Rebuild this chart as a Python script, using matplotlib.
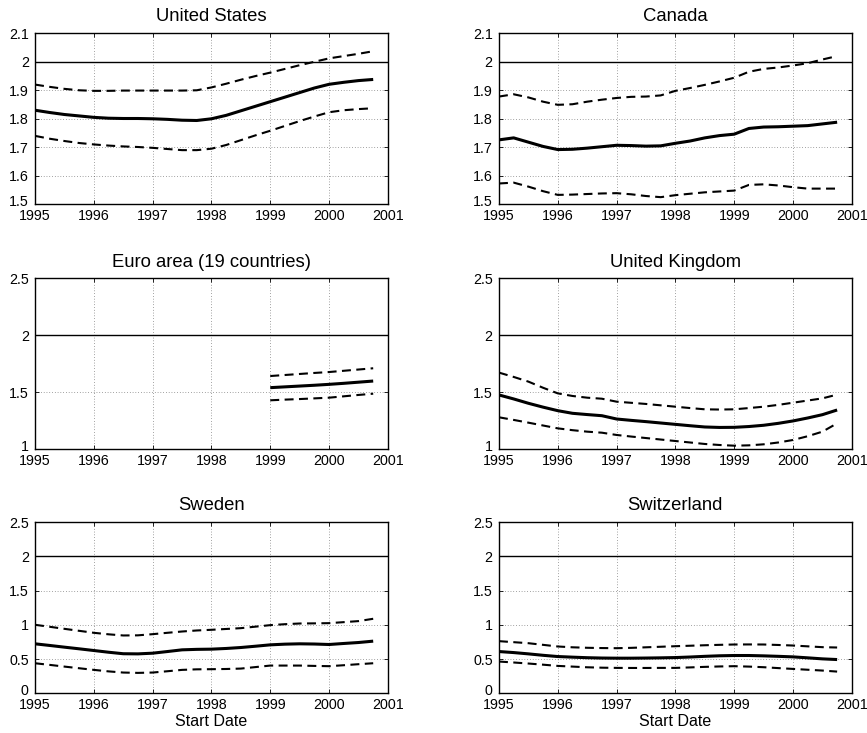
import numpy as np
import matplotlib
matplotlib.use('Agg')
import matplotlib.pyplot as plt
import matplotlib.transforms as mtransforms

plt.rcParams['font.family'] = ['Liberation Sans', 'DejaVu Sans']

# quarterly start dates 1995Q1 .. 2000Q4
dates = [1995 + q / 4 for q in range(24)]
years = [1995, 1996, 1997, 1998, 1999, 2000, 2001]
target = 2.0

us_med = [1.830, 1.822, 1.815, 1.810, 1.805, 1.802, 1.801, 1.801, 1.800, 1.798, 1.795, 1.794,
          1.800, 1.812, 1.828, 1.844, 1.860, 1.876, 1.892, 1.908, 1.921, 1.928, 1.934, 1.938]
us_up = [1.920, 1.912, 1.905, 1.900, 1.898, 1.898, 1.899, 1.899, 1.899, 1.899, 1.899, 1.900,
         1.910, 1.923, 1.937, 1.950, 1.962, 1.975, 1.988, 2.000, 2.012, 2.020, 2.028, 2.037]
us_lo = [1.740, 1.730, 1.722, 1.715, 1.710, 1.706, 1.703, 1.701, 1.698, 1.694, 1.690, 1.690,
         1.695, 1.708, 1.725, 1.742, 1.758, 1.775, 1.792, 1.808, 1.823, 1.830, 1.834, 1.837]

ca_med = [1.726, 1.733, 1.718, 1.703, 1.692, 1.693, 1.697, 1.702, 1.707, 1.706, 1.704, 1.705,
          1.714, 1.722, 1.733, 1.741, 1.746, 1.766, 1.771, 1.772, 1.774, 1.776, 1.782, 1.788]
ca_up = [1.878, 1.886, 1.875, 1.860, 1.849, 1.851, 1.860, 1.867, 1.873, 1.877, 1.878, 1.882,
         1.898, 1.908, 1.919, 1.931, 1.944, 1.965, 1.975, 1.980, 1.987, 1.995, 2.008, 2.020]
ca_lo = [1.573, 1.576, 1.562, 1.546, 1.533, 1.534, 1.536, 1.538, 1.539, 1.535, 1.529, 1.525,
         1.532, 1.537, 1.542, 1.545, 1.548, 1.568, 1.570, 1.566, 1.560, 1.555, 1.555, 1.555]

nan = float('nan')
ea_med = [nan] * 16 + [1.541, 1.548, 1.555, 1.562, 1.570, 1.579, 1.589, 1.599]
ea_up = [nan] * 16 + [1.643, 1.652, 1.661, 1.670, 1.678, 1.689, 1.700, 1.711]
ea_lo = [nan] * 16 + [1.430, 1.436, 1.441, 1.447, 1.453, 1.465, 1.477, 1.488]

uk_med = [1.477, 1.442, 1.404, 1.370, 1.339, 1.316, 1.305, 1.295, 1.266, 1.254, 1.243, 1.231,
          1.219, 1.207, 1.196, 1.192, 1.193, 1.200, 1.211, 1.228, 1.249, 1.275, 1.304, 1.345]
uk_up = [1.673, 1.635, 1.594, 1.540, 1.491, 1.468, 1.453, 1.444, 1.418, 1.408, 1.398, 1.386,
         1.374, 1.362, 1.351, 1.349, 1.351, 1.362, 1.374, 1.390, 1.409, 1.428, 1.447, 1.480]
uk_lo = [1.281, 1.258, 1.234, 1.209, 1.184, 1.168, 1.155, 1.146, 1.126, 1.112, 1.099, 1.086,
         1.073, 1.060, 1.047, 1.038, 1.032, 1.035, 1.044, 1.060, 1.082, 1.115, 1.155, 1.228]

se_med = [0.723, 0.699, 0.674, 0.650, 0.625, 0.600, 0.578, 0.576, 0.586, 0.610, 0.635, 0.642,
          0.645, 0.655, 0.669, 0.688, 0.708, 0.718, 0.723, 0.720, 0.713, 0.728, 0.742, 0.762]
se_up = [1.001, 0.972, 0.942, 0.913, 0.884, 0.862, 0.845, 0.847, 0.864, 0.884, 0.903, 0.918,
         0.928, 0.940, 0.952, 0.974, 0.996, 1.010, 1.020, 1.022, 1.025, 1.040, 1.055, 1.089]
se_lo = [0.439, 0.415, 0.390, 0.366, 0.342, 0.320, 0.303, 0.298, 0.303, 0.322, 0.342, 0.350,
         0.352, 0.355, 0.361, 0.383, 0.405, 0.405, 0.405, 0.400, 0.396, 0.410, 0.425, 0.439]

ch_med = [0.610, 0.595, 0.576, 0.555, 0.537, 0.528, 0.520, 0.515, 0.513, 0.513, 0.515, 0.518,
          0.522, 0.530, 0.540, 0.548, 0.552, 0.552, 0.547, 0.540, 0.532, 0.518, 0.503, 0.493]
ch_up = [0.762, 0.747, 0.732, 0.708, 0.684, 0.672, 0.665, 0.661, 0.659, 0.664, 0.672, 0.680,
         0.688, 0.695, 0.702, 0.708, 0.713, 0.714, 0.713, 0.706, 0.698, 0.686, 0.674, 0.669]
ch_lo = [0.464, 0.450, 0.435, 0.418, 0.400, 0.390, 0.380, 0.374, 0.371, 0.370, 0.370, 0.371,
         0.371, 0.378, 0.386, 0.392, 0.396, 0.390, 0.381, 0.368, 0.356, 0.344, 0.332, 0.317]

yt_top = [1.5, 1.6, 1.7, 1.8, 1.9, 2.0, 2.1]
yt_mid = [1.0, 1.5, 2.0, 2.5]
yt_bot = [0.0, 0.5, 1.0, 1.5, 2.0, 2.5]

panels = [
    ("United States", us_med, us_up, us_lo, yt_top),
    ("Canada", ca_med, ca_up, ca_lo, yt_top),
    ("Euro area (19 countries)", ea_med, ea_up, ea_lo, yt_mid),
    ("United Kingdom", uk_med, uk_up, uk_lo, yt_mid),
    ("Sweden", se_med, se_up, se_lo, yt_bot),
    ("Switzerland", ch_med, ch_up, ch_lo, yt_bot),
]

def fmt(v):
    return ('%g' % v)

fig = plt.figure(figsize=(8.67, 7.33), dpi=100)
lefts = [0.0404, 0.5755]
bottoms = [0.7213, 0.387, 0.0542]
w, h = 0.407, 0.2333

for i, (name, med, up, lo, yt) in enumerate(panels):
    ax = fig.add_axes([lefts[i % 2], bottoms[i // 2], w, h])
    ax.axhline(target, color='black', lw=1.0)
    ax.plot(dates, med, color='black', lw=2.2, solid_capstyle='butt')
    ax.plot(dates, up, color='black', lw=1.5, dashes=(4.3, 2.6))
    ax.plot(dates, lo, color='black', lw=1.5, dashes=(4.3, 2.6))
    ax.set_xlim(1995, 2001)
    ax.set_ylim(yt[0], yt[-1])
    ax.set_xticks(years)
    ax.set_xticklabels([str(y) for y in years])
    ax.set_yticks(yt)
    ax.set_yticklabels([fmt(v) for v in yt])
    ax.grid(True, linestyle=(0, (1, 3)), color='black', lw=0.5, alpha=0.7)
    ax.tick_params(direction='in', length=3, width=0.6, top=True, right=True,
                   labelsize=10.3)
    ax.tick_params(axis='x', pad=3.5)
    ax.tick_params(axis='y', pad=4.5)
    for s in ax.spines.values():
        s.set_linewidth(1.0)
    # lift the lowest y label a touch so it sits clear of the first year label
    lab = ax.get_yticklabels()[0]
    lab.set_transform(lab.get_transform() +
                      mtransforms.ScaledTranslation(0, 3 / 72, fig.dpi_scale_trans))
    ax.set_title(name, fontsize=13.3, pad=8.5)
    if i >= 4:
        ax.set_xlabel('Start Date', fontsize=11.5, labelpad=1.5)

fig.savefig('out.png', dpi=100)
